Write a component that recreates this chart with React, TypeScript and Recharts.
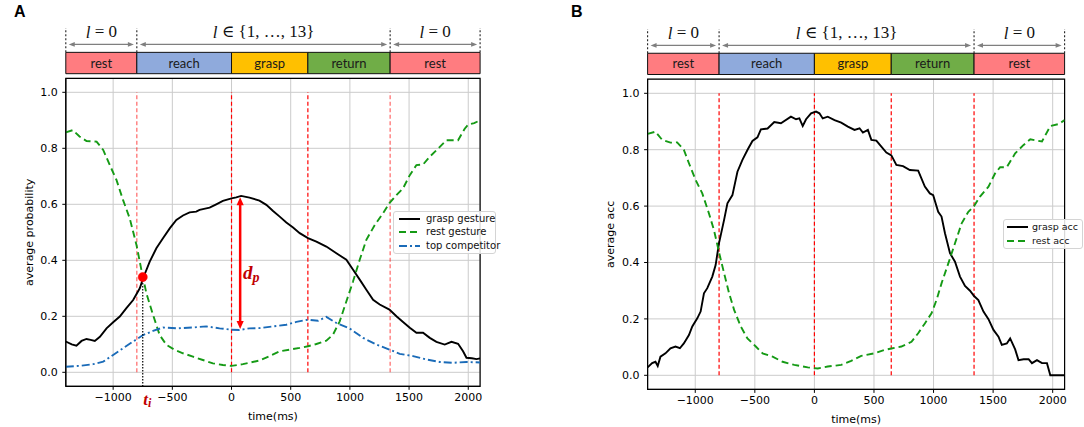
import React from "react"
import {
  LineChart,
  Line,
  XAxis,
  YAxis,
  CartesianGrid,
  ReferenceLine,
  ReferenceArea,
  ReferenceDot,
  Legend,
} from "recharts"

type Pt = [number, number]

// phases of the movement, shown as the coloured strip above each panel
const phaseNames = ["rest", "reach", "grasp", "return", "rest"]
const phaseColors = ["#ff7c80", "#8faadc", "#ffc000", "#70ad47", "#ff7c80"]
const phaseBounds = [-1400, -800, 0, 645, 1340, 2100]
const levelSpans: [number, number][] = [[-1400, -800], [-800, 1340], [1340, 2100]]
const levelTexts = [" = 0", " \u2208 {1, \u2026, 13}", " = 0"]

const xTicks = [-1000, -500, 0, 500, 1000, 1500, 2000]
const yTicks = [0, 0.2, 0.4, 0.6, 0.8, 1.0]

// panel A
const graspGesture: Pt[] = [
  [-1400, 0.11], [-1350, 0.1], [-1310, 0.095], [-1267, 0.112], [-1225, 0.119], [-1190, 0.116],
  [-1155, 0.112], [-1112, 0.127], [-1056, 0.157], [-1000, 0.179], [-944, 0.199], [-888, 0.229],
  [-831, 0.258], [-775, 0.3], [-747, 0.336], [-691, 0.395], [-635, 0.443], [-579, 0.479],
  [-522, 0.514], [-466, 0.544], [-410, 0.56], [-354, 0.571], [-298, 0.574], [-270, 0.58],
  [-242, 0.583], [-185, 0.588], [-129, 0.6], [-73, 0.612], [0, 0.621], [40, 0.625], [81, 0.63],
  [152, 0.624], [236, 0.613], [294, 0.598], [351, 0.576], [407, 0.556], [463, 0.535],
  [520, 0.517], [576, 0.497], [646, 0.479], [717, 0.467], [801, 0.449], [886, 0.425],
  [970, 0.402], [1027, 0.366], [1083, 0.331], [1139, 0.295], [1196, 0.259], [1252, 0.242],
  [1334, 0.224], [1393, 0.2], [1449, 0.18], [1506, 0.159], [1562, 0.141], [1618, 0.141],
  [1675, 0.123], [1731, 0.109], [1801, 0.099], [1858, 0.109], [1914, 0.102], [1956, 0.075],
  [1985, 0.052], [2030, 0.05], [2070, 0.047], [2100, 0.05],
]
const restGesture: Pt[] = [
  [-1400, 0.857], [-1340, 0.865], [-1284, 0.842], [-1225, 0.826], [-1140, 0.824], [-1084, 0.794],
  [-1028, 0.74], [-972, 0.687], [-916, 0.615], [-860, 0.55], [-803, 0.455], [-761, 0.365],
  [-719, 0.282], [-663, 0.205], [-607, 0.133], [-550, 0.098], [-480, 0.08], [-410, 0.068],
  [-326, 0.056], [-242, 0.044], [-157, 0.032], [-73, 0.026], [0, 0.023], [96, 0.029],
  [236, 0.042], [323, 0.058], [407, 0.075], [492, 0.081], [576, 0.087], [646, 0.093],
  [717, 0.101], [801, 0.113], [858, 0.135], [914, 0.182], [970, 0.253], [1027, 0.325],
  [1083, 0.402], [1139, 0.473], [1210, 0.526], [1280, 0.568], [1334, 0.604], [1393, 0.633],
  [1449, 0.657], [1506, 0.704], [1562, 0.74], [1618, 0.742], [1675, 0.77], [1731, 0.793],
  [1815, 0.829], [1914, 0.829], [1970, 0.87], [2000, 0.885], [2050, 0.89], [2100, 0.9],
]
const topCompetitor: Pt[] = [
  [-1400, 0.02], [-1284, 0.023], [-1169, 0.029], [-1084, 0.038], [-1000, 0.062], [-916, 0.086],
  [-831, 0.11], [-747, 0.133], [-663, 0.148], [-579, 0.16], [-466, 0.157], [-326, 0.16],
  [-213, 0.164], [-101, 0.157], [0, 0.152], [67, 0.151], [152, 0.157], [238, 0.158],
  [351, 0.164], [463, 0.17], [548, 0.18], [646, 0.188], [731, 0.184], [801, 0.198],
  [886, 0.176], [999, 0.156], [1111, 0.123], [1224, 0.099], [1334, 0.081], [1421, 0.066],
  [1534, 0.058], [1646, 0.046], [1759, 0.037], [1872, 0.034], [1985, 0.037], [2100, 0.035],
]
const crossing: Pt = [-750, 0.34]
const dpArrow: [Pt, Pt] = [[73, 0.625], [73, 0.155]]

// panel B
const graspAcc: Pt[] = [
  [-1400, 0.028], [-1362, 0.043], [-1334, 0.048], [-1315, 0.033], [-1292, 0.066], [-1250, 0.078],
  [-1208, 0.096], [-1166, 0.102], [-1129, 0.096], [-1096, 0.113], [-1053, 0.143], [-1025, 0.173],
  [-983, 0.202], [-955, 0.226], [-927, 0.291], [-899, 0.309], [-857, 0.35], [-829, 0.391],
  [-801, 0.468], [-758, 0.551], [-730, 0.61], [-688, 0.639], [-646, 0.722], [-604, 0.764],
  [-562, 0.799], [-520, 0.831], [-478, 0.844], [-449, 0.872], [-393, 0.875], [-337, 0.898],
  [-281, 0.894], [-197, 0.917], [-154, 0.908], [-126, 0.911], [-98, 0.884], [-70, 0.908],
  [-28, 0.929], [14, 0.935], [42, 0.929], [70, 0.911], [112, 0.917], [169, 0.905], [225, 0.896],
  [281, 0.882], [337, 0.87], [379, 0.876], [407, 0.861], [449, 0.87], [478, 0.835], [520, 0.832],
  [562, 0.811], [604, 0.79], [646, 0.78], [688, 0.746], [744, 0.742], [801, 0.728], [871, 0.726],
  [927, 0.669], [969, 0.645], [997, 0.639], [1039, 0.58], [1067, 0.563], [1096, 0.504],
  [1138, 0.433], [1180, 0.403], [1222, 0.35], [1264, 0.317], [1306, 0.3], [1340, 0.281],
  [1376, 0.267], [1419, 0.226], [1461, 0.199], [1503, 0.161], [1545, 0.137], [1573, 0.108],
  [1615, 0.113], [1643, 0.131], [1685, 0.092], [1713, 0.054], [1756, 0.057], [1798, 0.057],
  [1826, 0.043], [1868, 0.054], [1910, 0.043], [1952, 0.043], [1980, 0], [2100, 0],
]
const restAcc: Pt[] = [
  [-1400, 0.856], [-1334, 0.864], [-1278, 0.835], [-1208, 0.825], [-1152, 0.826], [-1096, 0.8],
  [-1053, 0.752], [-997, 0.693], [-941, 0.645], [-885, 0.574], [-843, 0.515], [-792, 0.421],
  [-758, 0.362], [-716, 0.291], [-674, 0.232], [-618, 0.173], [-562, 0.131], [-492, 0.102],
  [-435, 0.078], [-351, 0.066], [-267, 0.048], [-169, 0.037], [-56, 0.028], [28, 0.024],
  [112, 0.031], [225, 0.037], [309, 0.051], [393, 0.069], [506, 0.078], [590, 0.09],
  [646, 0.095], [730, 0.102], [815, 0.119], [871, 0.149], [927, 0.184], [983, 0.22],
  [1025, 0.267], [1067, 0.326], [1124, 0.397], [1180, 0.468], [1236, 0.539], [1292, 0.58],
  [1340, 0.6], [1390, 0.634], [1461, 0.669], [1517, 0.716], [1559, 0.738], [1615, 0.738],
  [1685, 0.787], [1756, 0.817], [1812, 0.837], [1910, 0.829], [1980, 0.884], [2051, 0.891],
  [2100, 0.905],
]

const rows = (pts: Pt[]) => pts.map(([t, v]) => ({ t, v }))
const fmtX = (v: number) => (v < 0 ? "\u2212" + Math.abs(v) : String(v))

const SANS = "'DejaVu Sans', sans-serif"
const SERIF = "'Liberation Serif', 'DejaVu Serif', serif"

type Series = { name: string; pts: Pt[]; color: string; dash?: string; width: number }

const seriesA: Series[] = [
  { name: "grasp gesture", pts: graspGesture, color: "#000000", width: 1.9 },
  { name: "rest gesture", pts: restGesture, color: "#159a15", dash: "7 4", width: 1.9 },
  { name: "top competitor", pts: topCompetitor, color: "#1a6bb8", dash: "8 3 2 3", width: 1.9 },
]
const seriesB: Series[] = [
  { name: "grasp acc", pts: graspAcc, color: "#000000", width: 1.9 },
  { name: "rest acc", pts: restAcc, color: "#159a15", dash: "7 4", width: 1.9 },
]

// line with a head at both ends, used by the header strip and the d_p mark
const doubleArrow = (color: string, sw: number, hl: number, hw: number) => (p: any) => {
  const { x1, y1, x2, y2 } = p
  const dx = x2 - x1
  const dy = y2 - y1
  const len = Math.hypot(dx, dy) || 1
  const ux = dx / len
  const uy = dy / len
  const head = (tx: number, ty: number, dir: number) => {
    const bx = tx - dir * ux * hl
    const by = ty - dir * uy * hl
    return `${tx},${ty} ${bx - uy * hw},${by + ux * hw} ${bx + uy * hw},${by - ux * hw}`
  }
  return (
    <g>
      <line
        x1={x1 + ux * hl * 0.7}
        y1={y1 + uy * hl * 0.7}
        x2={x2 - ux * hl * 0.7}
        y2={y2 - uy * hl * 0.7}
        stroke={color}
        strokeWidth={sw}
      />
      <polygon points={head(x2, y2, 1)} fill={color} />
      <polygon points={head(x1, y1, -1)} fill={color} />
    </g>
  )
}

type LegendCfg = { left: number; top: number; width: number; height: number; rowGap: number; sampleX: number; textX: number; fontSize: number }

const LegendBox = ({ items, cfg }: { items: Series[]; cfg: LegendCfg }) => (
  <div
    style={{
      width: "100%",
      height: "100%",
      boxSizing: "border-box",
      border: "1px solid #d4d4d4",
      borderRadius: 3,
      background: "rgba(255,255,255,0.85)",
      position: "relative",
      fontFamily: SANS,
      fontSize: cfg.fontSize,
      color: "#111",
    }}
  >
    {items.map((s, i) => (
      <div key={s.name} style={{ position: "absolute", left: 0, top: i * cfg.rowGap, height: 14, width: "100%" }}>
        <svg width={cfg.textX} height={14} style={{ position: "absolute", left: 0, top: 0 }}>
          <line x1={cfg.sampleX} y1={7} x2={cfg.sampleX + 21} y2={7} stroke={s.color} strokeWidth={2} strokeDasharray={s.dash} />
        </svg>
        <span style={{ position: "absolute", left: cfg.textX, top: 1, whiteSpace: "nowrap", lineHeight: "12px" }}>{s.name}</span>
      </div>
    ))}
  </div>
)

type Frame = {
  left: number
  width: number
  plotLeft: number
  plotRight: number
  plotTop: number
  plotBottom: number
  xAxisH: number
}

const PhaseHeader = ({ f, top, bottom }: { f: Frame; top: number; bottom: number }) => (
  <div style={{ position: "absolute", left: f.left, top: 0 }}>
    <LineChart
      width={f.width}
      height={80}
      data={[]}
      margin={{ top, bottom: 80 - bottom, left: f.plotLeft - f.left, right: f.left + f.width - f.plotRight }}
    >
      <XAxis dataKey="t" type="number" domain={[-1400, 2100]} allowDataOverflow hide />
      <YAxis type="number" domain={[0, 1]} allowDataOverflow hide />
      {phaseNames.map((name, i) => (
        <ReferenceArea
          key={"ph" + i}
          x1={phaseBounds[i]}
          x2={phaseBounds[i + 1]}
          y1={0}
          y2={0.467}
          fill={phaseColors[i]}
          fillOpacity={1}
          stroke="#111"
          strokeWidth={1}
          ifOverflow="visible"
          label={{ value: name, position: "center", fill: "#1a1a1a", fontSize: 13, fontFamily: "Lato, 'Open Sans', sans-serif" }}
        />
      ))}
      {[-1400, -800, 1340, 2100].map((x) => (
        <ReferenceLine
          key={"dv" + x}
          segment={[{ x, y: 0.467 }, { x, y: 1 }]}
          stroke="#222"
          strokeWidth={1.1}
          strokeDasharray="2 2"
          ifOverflow="visible"
        />
      ))}
      {levelSpans.map(([a, b], i) => (
        <ReferenceLine
          key={"ar" + i}
          segment={[{ x: a + 25, y: 0.64 }, { x: b - 25, y: 0.64 }]}
          ifOverflow="visible"
          shape={doubleArrow("#7f7f7f", 1.2, 6, 2.4)}
        />
      ))}
      {levelSpans.map(([a, b], i) => (
        <ReferenceDot
          key={"lt" + i}
          x={(a + b) / 2}
          y={0.92}
          r={0}
          ifOverflow="visible"
          shape={(p: any) => (
            <text x={p.cx} y={p.cy} textAnchor="middle" dominantBaseline="central" fontFamily={SERIF} fontSize={17} fill="#111">
              <tspan fontStyle="italic">l</tspan>
              {levelTexts[i]}
            </text>
          )}
        />
      ))}
    </LineChart>
  </div>
)

const PlotPanel = ({
  f,
  series,
  yLabel,
  yLabelX,
  xLabelOffset,
  legend,
  dimOuter,
  children,
}: {
  f: Frame
  series: Series[]
  yLabel: string
  yLabelX: number
  xLabelOffset: number
  legend: LegendCfg
  dimOuter: boolean
  children?: React.ReactNode
}) => (
  <div style={{ position: "absolute", left: f.left, top: 0 }}>
    <LineChart
      width={f.width}
      height={427}
      margin={{ top: f.plotTop, bottom: 427 - f.plotBottom - f.xAxisH, left: 0, right: f.left + f.width - f.plotRight }}
    >
      <CartesianGrid stroke="#cbcbcb" strokeWidth={1} />
      <XAxis
        dataKey="t"
        type="number"
        domain={[-1400, 2100]}
        allowDataOverflow
        ticks={xTicks}
        tickFormatter={fmtX}
        height={f.xAxisH}
        tickSize={3.5}
        tickMargin={3}
        stroke="#000"
        tick={{ fill: "#000", fontSize: 11, fontFamily: SANS }}
        label={{ value: "time(ms)", position: "insideBottom", offset: xLabelOffset, fill: "#000", fontSize: 11, fontFamily: SANS }}
      />
      <YAxis
        type="number"
        domain={[-0.05, 1.05]}
        allowDataOverflow
        ticks={yTicks}
        tickFormatter={(v: number) => v.toFixed(1)}
        width={f.plotLeft - f.left}
        tickSize={3.5}
        tickMargin={4.5}
        stroke="#000"
        tick={{ fill: "#000", fontSize: 11, fontFamily: SANS }}
        label={{
          value: yLabel,
          angle: -90,
          position: "insideLeft",
          offset: yLabelX,
          fill: "#000",
          fontSize: 11,
          fontFamily: SANS,
          style: { textAnchor: "middle" },
        }}
      />
      {phaseBounds.slice(1, 5).map((x, i) => (
        <ReferenceLine
          key={"rv" + x}
          segment={[{ x, y: 0 }, { x, y: 1 }]}
          stroke="#ff0000"
          strokeOpacity={dimOuter && (i === 0 || i === 3) ? 0.6 : 1}
          strokeWidth={1.2}
          strokeDasharray="4 2.5"
        />
      ))}
      {series.map((s) => (
        <Line
          key={s.name}
          data={rows(s.pts)}
          dataKey="v"
          name={s.name}
          type="linear"
          stroke={s.color}
          strokeWidth={s.width}
          strokeDasharray={s.dash}
          dot={false}
          activeDot={false}
          isAnimationActive={false}
        />
      ))}
      {children}
      <ReferenceArea x1={-1400} x2={2100} y1={-0.05} y2={1.05} fill="none" stroke="#000" strokeWidth={1.2} ifOverflow="visible" />
      <Legend
        layout="horizontal"
        verticalAlign="middle"
        align="center"
        wrapperStyle={{ left: legend.left, top: legend.top, width: legend.width, height: legend.height }}
        content={() => <LegendBox items={series} cfg={legend} />}
      />
    </LineChart>
  </div>
)

const frameA: Frame = { left: 0, width: 540, plotLeft: 65.8, plotRight: 480.1, plotTop: 78.3, plotBottom: 386.3, xAxisH: 36 }
const frameB: Frame = { left: 560, width: 524, plotLeft: 647.6, plotRight: 1064.6, plotTop: 79.2, plotBottom: 389.4, xAxisH: 34 }

export default function App() {
  return (
    <div style={{ position: "absolute", left: 0, top: 0, width: 1084, height: 427, background: "#fff", overflow: "hidden" }}>
      <div style={{ position: "absolute", left: 14, top: 3, fontFamily: "'Liberation Sans', Arial, sans-serif", fontWeight: 700, fontSize: 16 }}>A</div>
      <div style={{ position: "absolute", left: 571, top: 3, fontFamily: "'Liberation Sans', Arial, sans-serif", fontWeight: 700, fontSize: 16 }}>B</div>

      <PhaseHeader f={frameA} top={28} bottom={73.7} />
      <PhaseHeader f={frameB} top={29} bottom={74.5} />

      <PlotPanel
        f={frameA}
        series={seriesA}
        yLabel="average probability"
        yLabelX={29}
        xLabelOffset={2}
        dimOuter
        legend={{ left: 393, top: 210.7, width: 103, height: 43.5, rowGap: 13.7, sampleX: 5, textX: 32, fontSize: 10 }}
      >
        <ReferenceLine
          segment={[{ x: crossing[0], y: crossing[1] }, { x: crossing[0], y: -0.05 }]}
          stroke="#000"
          strokeWidth={1.2}
          strokeDasharray="1.5 1.5"
          ifOverflow="visible"
        />
        <ReferenceLine
          segment={[{ x: dpArrow[0][0], y: dpArrow[0][1] }, { x: dpArrow[1][0], y: dpArrow[1][1] }]}
          ifOverflow="visible"
          shape={doubleArrow("#ff0000", 2.5, 8, 3.6)}
        />
        <ReferenceDot x={crossing[0]} y={crossing[1]} r={4.6} fill="#ff0000" stroke="#ff0000" strokeWidth={0.5} ifOverflow="visible" />
        <ReferenceDot
          x={166}
          y={0.355}
          r={0}
          ifOverflow="visible"
          shape={(p: any) => (
            <text x={p.cx} y={p.cy} textAnchor="middle" dominantBaseline="central" fontFamily={SERIF} fontSize={19} fontWeight={700} fontStyle="italic" fill="#c00000">
              d<tspan fontSize={14} dy={4}>p</tspan>
            </text>
          )}
        />
        <ReferenceDot
          x={-712}
          y={-0.097}
          r={0}
          ifOverflow="visible"
          shape={(p: any) => (
            <text x={p.cx} y={p.cy} textAnchor="middle" dominantBaseline="central" fontFamily={SERIF} fontSize={17} fontWeight={700} fontStyle="italic" fill="#c00000">
              t<tspan fontSize={12} dy={4}>i</tspan>
            </text>
          )}
        />
      </PlotPanel>

      <PlotPanel
        f={frameB}
        series={seriesB}
        yLabel="average acc"
        yLabelX={50}
        xLabelOffset={0}
        dimOuter={false}
        legend={{ left: 443, top: 219, width: 80, height: 30, rowGap: 14, sampleX: 3, textX: 28, fontSize: 9.5 }}
      />
    </div>
  )
}
